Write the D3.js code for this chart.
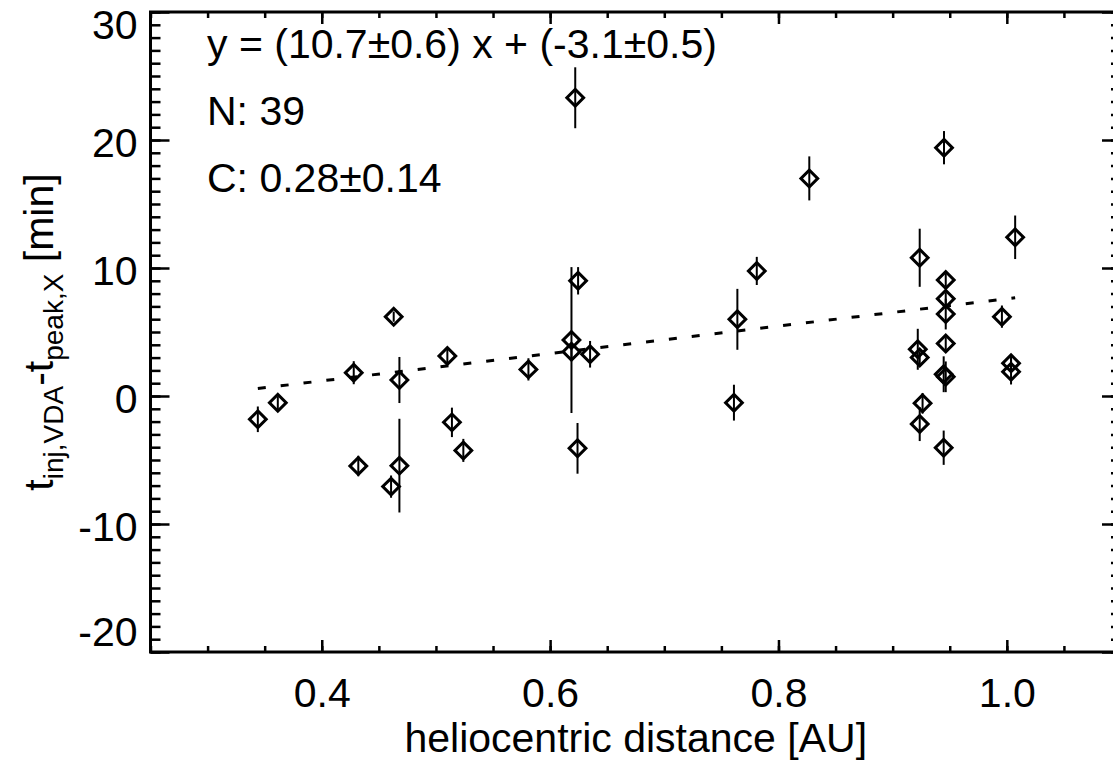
<!DOCTYPE html>
<html><head><meta charset="utf-8">
<script src="https://cdn.jsdelivr.net/npm/d3@7"></script>
<style>
body{margin:0;background:#fff}
svg{display:block}
text{font-family:"Liberation Sans",Arial,Helvetica,sans-serif;fill:#000}
</style>
</head><body>
<svg id="chart" width="1113" height="760"></svg>
<script>
// ---- data ----
const distance = [0.344,0.3615,0.428,0.432,0.463,0.468,0.468,0.4607,0.510,0.514,0.524,0.581,
  0.6187,0.6187,0.6245,0.635,0.624,0.622,0.827,0.781,0.764,0.761,0.945,1.0073,0.9237,0.9465,
  0.9465,0.9465,0.9465,0.9957,0.922,0.9237,0.9447,1.0037,1.0037,0.9262,0.9237,0.9447,0.9465];
const delay = [-1.82,-0.52,1.82,-5.47,6.2,1.25,-5.44,-7.08,3.12,-2.06,-4.25,2.08,
  4.37,3.46,9.0,3.26,-4.09,23.3,17.0,9.77,5.99,-0.52,19.4,12.4,10.8,9.06,
  7.6,6.4,4.1,6.2,3.65,3.0,1.7,2.55,1.9,-0.57,-2.19,-4.04,1.5];
const delayErr = [1.0,0.5,0.9,0.8,0.4,1.8,3.66,0.87,0.6,1.15,0.9,0.87,
  5.7,0.6,1.07,1.04,1.98,2.38,1.72,1.1,2.38,1.4,1.3,1.7,2.27,0.5,
  0.5,1.2,0.5,0.87,1.6,0.5,1.4,0.6,1.0,0.8,1.33,1.34,1.2];
const fitSlope = 10.7, fitIntercept = -3.1;
const xTickValues = [0.4,0.6,0.8,1.0];
const xTickLabels = ["0.4","0.6","0.8","1.0"];
const yTickValues = [-20,-10,0,10,20,30];
const yTickLabels = ["-20","-10","0","10","20","30"];
const annotations = ["y = (10.7\u00B10.6) x + (-3.1\u00B10.5)","N: 39","C: 0.28\u00B10.14"];
const xTitle = "heliocentric distance [AU]";

// ---- layout ----
const L=150.5, R=1121, T=12, B=652;
const FS=41;
const x = d3.scaleLinear().domain([0.25,1.1]).range([L,R]);
const y = d3.scaleLinear().domain([-20,30]).range([B,T]);
const svg = d3.select("#chart");
svg.append("rect").attr("width",1113).attr("height",760).attr("fill","#fff");

const xMinor = d3.range(0.25,1.1001,0.05).map(v=>+v.toFixed(2));
const yMinor = d3.range(-20,30.001,1);

function styleAxis(g){
  g.select(".domain").remove();
  g.selectAll(".tick line").attr("stroke","#000").attr("stroke-width",2.5);
  g.selectAll(".tick text").attr("font-size",FS).attr("font-family","Liberation Sans, Arial, sans-serif").attr("fill","#000");
}
// bottom
svg.append("g").attr("transform",`translate(0,${B})`)
  .call(d3.axisBottom(x).tickValues(xMinor).tickSizeInner(-6).tickSizeOuter(0).tickFormat("")).call(styleAxis);
svg.append("g").attr("transform",`translate(0,${B})`)
  .call(d3.axisBottom(x).tickValues(xTickValues).tickSizeInner(-12).tickSizeOuter(0).tickPadding(26)
    .tickFormat((d,i)=>xTickLabels[i])).call(styleAxis);
// top
svg.append("g").attr("transform",`translate(0,${T})`)
  .call(d3.axisTop(x).tickValues(xMinor).tickSizeInner(-6).tickSizeOuter(0).tickFormat("")).call(styleAxis);
svg.append("g").attr("transform",`translate(0,${T})`)
  .call(d3.axisTop(x).tickValues(xTickValues).tickSizeInner(-12).tickSizeOuter(0).tickFormat("")).call(styleAxis);
// left
svg.append("g").attr("transform",`translate(${L},0)`)
  .call(d3.axisLeft(y).tickValues(yMinor).tickSizeInner(-10).tickSizeOuter(0).tickFormat("")).call(styleAxis);
const gl = svg.append("g").attr("transform",`translate(${L},0)`)
  .call(d3.axisLeft(y).tickValues(yTickValues).tickSizeInner(-19).tickSizeOuter(0).tickPadding(13)
    .tickFormat((d,i)=>yTickLabels[i])).call(styleAxis);
gl.selectAll(".tick text").attr("dy",(d)=> d===30 ? "0.65em" : d===-20 ? "-0.17em" : "0.4em");
// right
svg.append("g").attr("transform",`translate(${R},0)`)
  .call(d3.axisRight(y).tickValues(yMinor).tickSizeInner(-10).tickSizeOuter(0).tickFormat("")).call(styleAxis);
svg.append("g").attr("transform",`translate(${R},0)`)
  .call(d3.axisRight(y).tickValues(yTickValues).tickSizeInner(-19).tickSizeOuter(0).tickFormat("")).call(styleAxis);
// frame
svg.append("rect").attr("x",L).attr("y",T).attr("width",R-L).attr("height",B-T)
  .attr("fill","none").attr("stroke","#000").attr("stroke-width",3);

// fit line
const xr = d3.extent(distance);
svg.append("path").datum(xr)
  .attr("d", d3.line().x(d=>x(d)).y(d=>y(fitSlope*d+fitIntercept)))
  .attr("fill","none").attr("stroke","#000").attr("stroke-width",3).attr("stroke-dasharray","8,15");

// error bars
const pts = distance.map((d,i)=>({x:d,y:delay[i],e:delayErr[i]}));
svg.append("g").selectAll("line").data(pts).join("line")
  .attr("x1",d=>x(d.x)).attr("x2",d=>x(d.x))
  .attr("y1",d=>y(d.y-d.e)).attr("y2",d=>y(d.y+d.e))
  .attr("stroke","#000").attr("stroke-width",2);
// diamonds
svg.append("g").selectAll("path").data(pts).join("path")
  .attr("transform",d=>`translate(${x(d.x)},${y(d.y)}) rotate(45)`)
  .attr("d", d3.symbol().type(d3.symbolSquare).size(140))
  .attr("fill","none").attr("stroke","#000").attr("stroke-width",3);

// annotations
svg.append("g").selectAll("text").data(annotations).join("text")
  .attr("x",207).attr("y",(d,i)=>58+67*i).attr("font-size",FS).text(d=>d);

// x title
svg.append("text").attr("x",(L+R)/2).attr("y",752).attr("text-anchor","middle")
  .attr("font-size",FS).text(xTitle);

// y title
const yt = svg.append("text").attr("transform",`translate(53,${(T+B)/2}) rotate(-90)`)
  .attr("text-anchor","middle").attr("font-size",FS);
yt.append("tspan").text("t");
yt.append("tspan").attr("font-size",28).attr("dy",10).text("inj,VDA");
yt.append("tspan").attr("dy",-10).text("-t");
yt.append("tspan").attr("font-size",28).attr("dy",10).text("peak,X");
yt.append("tspan").attr("dy",-10).text(" [min]");
</script>
</body></html>
